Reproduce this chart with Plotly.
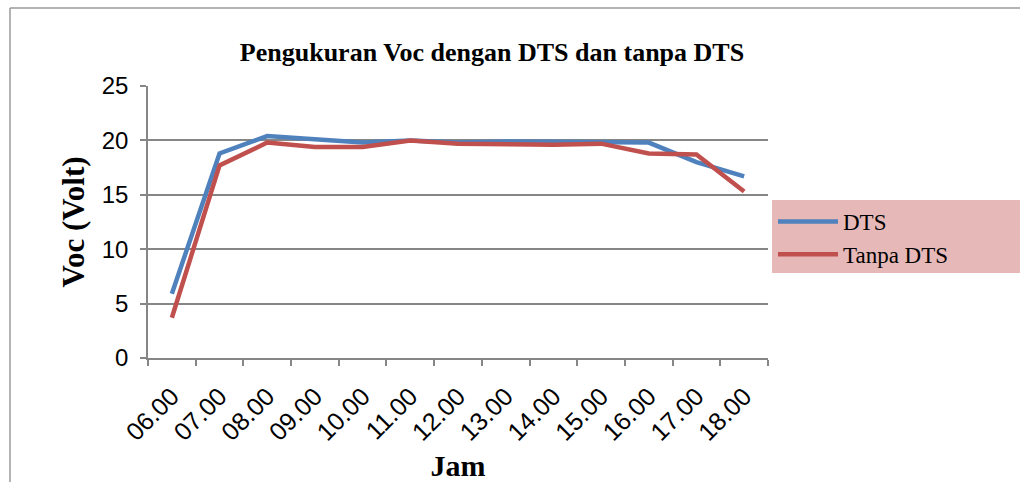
import plotly.graph_objects as go

jam = ["06.00", "07.00", "08.00", "09.00", "10.00", "11.00", "12.00",
       "13.00", "14.00", "15.00", "16.00", "17.00", "18.00"]
dts = [5.9, 18.8, 20.4, 20.1, 19.8, 20.0, 19.8, 19.9, 19.9, 19.8, 19.8, 18.0, 16.7]
tanpa_dts = [3.7, 17.7, 19.8, 19.4, 19.4, 20.0, 19.7, 19.6, 19.6, 19.7, 18.8, 18.7, 15.3]
y_ticks = [0, 5, 10, 15, 20, 25]

fig = go.Figure()
fig.add_trace(go.Scatter(x=jam, y=dts, mode="lines", name="DTS",
                         line=dict(color="#4F81BD", width=4.5)))
fig.add_trace(go.Scatter(x=jam, y=tanpa_dts, mode="lines", name="Tanpa DTS",
                         line=dict(color="#C0504D", width=4.5)))

L, R, T, B = 148, 252, 86, 124
W, H = 1020, 482
pw, ph = W - L - R, H - T - B

def px(x):
    return (x - L) / pw

def py(y):
    return (H - B - y) / ph

fig.update_layout(
    width=W, height=H,
    margin=dict(l=L, r=R, t=T, b=B, autoexpand=False),
    paper_bgcolor="white", plot_bgcolor="white",
    title=dict(text="<b>Pengukuran Voc dengan DTS dan tanpa DTS</b>",
               x=px(492), xref="paper", xanchor="center",
               y=1 - 52 / H, yanchor="middle",
               font=dict(family="Liberation Serif", size=26, color="black")),
    showlegend=True,
    legend=dict(x=px(773), xanchor="left", y=py(200), yanchor="top",
                bgcolor="rgba(0,0,0,0)", font=dict(family="Liberation Serif", size=23, color="black"),
                itemwidth=60, tracegroupgap=0),
    xaxis=dict(type="category", tickson="boundaries", ticks="outside", ticklen=6,
               tickcolor="#868686", tickwidth=1.5, automargin=False,
               showline=True, linecolor="#868686", linewidth=1.5,
               showgrid=False, tickangle=-45, ticklabelstandoff=12,
               tickfont=dict(family="Liberation Sans", size=25, color="black"),
               title=dict(text="<b>Jam</b>", standoff=10,
                          font=dict(family="Liberation Serif", size=30, color="black")),
               range=[-0.5, len(jam) - 0.5]),
    yaxis=dict(range=[0, 25], tickvals=y_ticks, ticks="outside", ticklen=6,
               tickcolor="#868686", tickwidth=1.5, automargin=False,
               showline=True, linecolor="#868686", linewidth=1.5,
               showgrid=True, gridcolor="#868686", gridwidth=1.5, zeroline=False,
               ticklabelstandoff=7,
               tickfont=dict(family="Liberation Sans", size=24, color="black"),
               title=dict(text="<b>Voc (Volt)</b>", standoff=8,
                          font=dict(family="Liberation Serif", size=31, color="black"))),
)

# pink legend panel, as in the reference
fig.add_shape(type="rect", xref="paper", yref="paper", layer="below",
              x0=px(772), x1=px(W), y0=py(273), y1=py(200),
              fillcolor="#E6B9B8", line=dict(width=0))

# outer frame like the reference
fig.add_shape(type="line", xref="paper", yref="paper",
              x0=px(10), x1=px(W), y0=py(8), y1=py(8),
              line=dict(color="#9a9a9a", width=1.5))
fig.add_shape(type="line", xref="paper", yref="paper",
              x0=px(10), x1=px(10), y0=py(8), y1=py(H),
              line=dict(color="#9a9a9a", width=1.5))

fig.write_html("out.html", config={"displayModeBar": False},
               post_script="document.body.style.margin='0px';")
